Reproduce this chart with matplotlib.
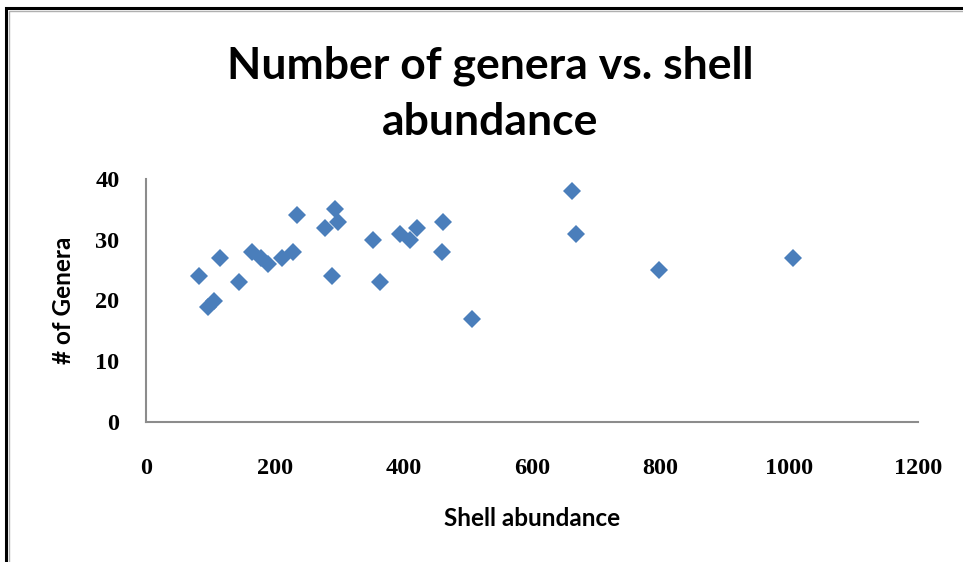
import matplotlib.pyplot as plt
from matplotlib.patches import Rectangle

# shell abundance per sample and the genera counted in it
shell_abundance = [83, 115, 105, 97, 145, 164, 178, 190, 211, 229, 234,
                   294, 299, 278, 289, 353, 364, 395, 410, 421, 462, 460,
                   507, 662, 668, 798, 1006]
n_genera = [24, 27, 20, 19, 23, 28, 27, 26, 27, 28, 34,
            35, 33, 32, 24, 30, 23, 31, 30, 32, 33, 28,
            17, 38, 31, 25, 27]

x_ticks = [0, 200, 400, 600, 800, 1000, 1200]
y_ticks = [0, 10, 20, 30, 40]

W, H = 963, 562
fig = plt.figure(figsize=(W / 100, H / 100), dpi=100)
fig.patch.set_facecolor('white')

ax = fig.add_axes([146 / W, 1 - 422 / H, 772 / W, 243 / H])
ax.plot(shell_abundance, n_genera, linestyle='none', marker='D',
        markersize=9.5, color='#4a7ebb', markeredgewidth=0)

ax.set_xlim(0, 1200)
ax.set_ylim(0, 40)
ax.set_xticks(x_ticks)
ax.set_yticks(y_ticks)
for s in ('top', 'right'):
    ax.spines[s].set_visible(False)
for s in ('left', 'bottom'):
    ax.spines[s].set_color('#8c8c8c')
    ax.spines[s].set_linewidth(1.5)
ax.tick_params(length=0)
ax.tick_params(axis='x', pad=26)
ax.tick_params(axis='y', pad=19)
for lab in ax.get_xticklabels() + ax.get_yticklabels():
    lab.set_family('Liberation Serif')
    lab.set_fontsize(17.5)
    lab.set_fontweight('bold')

ax.set_xlabel('Shell abundance', family='Lato', fontweight='bold',
              fontsize=17.5, labelpad=20)
ax.set_ylabel('# of Genera', family='Lato', fontweight='bold',
              fontsize=17.5, labelpad=15)

fig.text(490 / W, 1 - 94 / H, 'Number of genera vs. shell\nabundance',
         ha='center', va='center', family='Lato', fontweight='bold',
         fontsize=32, linespacing=1.48)

# outer frame: black line with a thin grey line inside it
fig.patches.append(Rectangle((5.5 / W, -0.5), 2, 0.5 + 1 - 8 / H,
                             transform=fig.transFigure, fill=False,
                             edgecolor='black', linewidth=2.2))
fig.patches.append(Rectangle((8.5 / W, -0.5), 2, 0.5 + 1 - 10.5 / H,
                             transform=fig.transFigure, fill=False,
                             edgecolor='#b0b0b0', linewidth=1))

fig.savefig('out.png', dpi=100)
